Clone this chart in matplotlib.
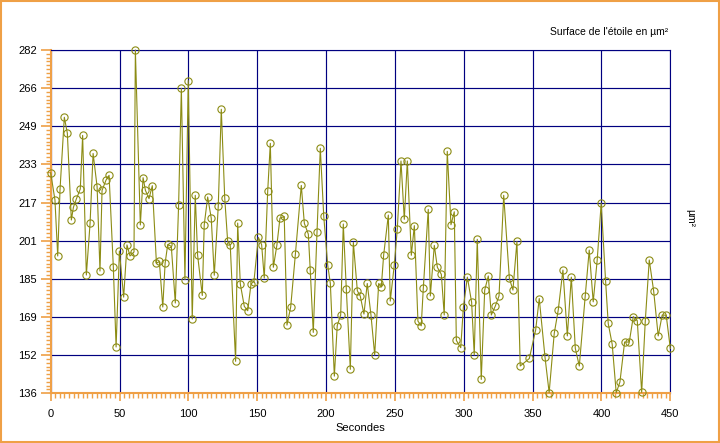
import numpy as np
import matplotlib
matplotlib.use("Agg")
import matplotlib.pyplot as plt
from matplotlib.patches import Rectangle
from matplotlib.ticker import AutoMinorLocator

# DATA
secondes = [
    0, 3.1, 5.1, 6.8, 9.9, 12.1, 15.0, 16.5, 18.6, 21.5, 23.2, 25.9, 28.6, 30.8,
    33.7, 35.8, 37.3, 40.2, 42.4, 45.5, 47.5, 49.9, 53.0, 55.4, 57.6, 60.5, 61.5,
    65.1, 67.1, 68.8, 71.4, 73.8, 76.8, 78.9, 81.4, 83.1, 85.0, 87.6, 90.5, 92.9,
    94.9, 97.5, 99.9, 102.8, 105.0, 106.7, 110.1, 111.5, 114.0, 116.6, 118.8,
    121.7, 123.9, 126.4, 128.5, 130.4, 134.3, 135.8, 137.7, 140.6, 143.1, 145.5,
    147.6, 150.8, 153.2, 155.1, 157.6, 159.5, 161.7, 164.3, 166.5, 169.6, 171.6,
    174.3, 177.7, 182.0, 184.2, 187.1, 188.5, 190.7, 193.4, 195.8, 198.3, 201.2,
    203.1, 206.0, 208.1, 210.6, 212.5, 214.7, 217.6, 219.8, 222.7, 224.8, 227.5,
    229.9, 232.6, 235.3, 238.2, 240.1, 241.8, 245.2, 246.6, 249.5, 251.7, 254.4,
    256.8, 259.0, 261.9, 264.1, 266.7, 269.1, 270.6, 274.2, 275.7, 278.6, 280.8,
    283.7, 285.8, 288.0, 290.7, 293.1, 294.6, 297.8, 299.7, 302.6, 305.7, 307.6,
    309.8, 312.7, 315.2, 317.8, 320.0, 322.9, 325.6, 329.0, 333.1, 335.7, 338.6,
    341.0, 347.6, 352.2, 354.8, 359.0, 362.0, 365.7, 368.6, 372.0, 375.2, 378.1,
    381.0, 383.9, 388.2, 391.1, 394.0, 396.9, 399.8, 403.0, 404.9, 407.8, 410.7,
    413.4, 416.8, 420.2, 423.1, 426.0, 429.2, 431.8, 434.7, 437.9, 441.2, 444.1,
    447.0, 450.0,
]
surface = [
    229.8, 218.2, 194.4, 222.9, 253.4, 246.6, 209.7, 215.1, 218.6, 222.9, 245.7,
    186.3, 208.3, 238.0, 223.9, 188.0, 222.3, 226.7, 228.7, 189.6, 155.7, 196.5,
    176.9, 199.1, 194.4, 196.1, 282.0, 207.6, 227.7, 222.3, 218.8, 224.3, 191.3,
    192.1, 172.7, 191.3, 199.3, 198.5, 174.4, 216.1, 265.7, 184.3, 269.0, 167.6,
    220.2, 194.7, 177.6, 207.6, 219.5, 210.5, 186.2, 215.6, 256.8, 219.0, 200.8,
    198.9, 149.6, 208.4, 182.5, 173.0, 171.1, 182.6, 183.5, 202.3, 199.2, 185.0,
    221.9, 242.3, 189.6, 199.1, 210.5, 211.2, 165.0, 172.7, 195.1, 224.4, 208.3,
    203.7, 188.4, 161.9, 204.4, 240.2, 211.4, 190.4, 182.7, 143.3, 164.8, 169.3,
    208.0, 180.2, 146.2, 200.2, 179.6, 177.4, 169.7, 182.7, 169.3, 152.3, 182.7,
    181.2, 194.7, 211.8, 175.2, 190.4, 205.7, 234.8, 210.0, 234.8, 194.7, 207.3,
    166.7, 164.7, 180.6, 214.2, 177.4, 198.9, 189.6, 186.6, 169.3, 238.9, 207.7,
    213.2, 158.5, 155.4, 172.5, 185.4, 174.7, 152.3, 201.5, 141.9, 179.9, 185.9,
    169.3, 173.1, 177.4, 220.2, 184.9, 179.9, 200.6, 147.6, 150.8, 162.9, 176.3,
    151.3, 136.3, 161.5, 171.4, 188.4, 160.4, 185.4, 155.1, 147.6, 177.4, 196.9,
    174.9, 192.7, 216.9, 183.7, 165.7, 156.8, 136.2, 140.8, 157.8, 157.8, 168.6,
    166.9, 136.4, 166.6, 192.7, 179.5, 160.4, 169.3, 169.2, 155.1,
]
x_ticks = [0, 50, 100, 150, 200, 250, 300, 350, 400, 450]
y_labels = ["136", "152", "169", "185", "201", "217", "233", "249", "266", "282"]

ORANGE = "#EFA046"
NAVY = "#000080"
OLIVE = "#8C8C14"

plt.rcParams["font.family"] = ["Liberation Sans", "DejaVu Sans"]

fig = plt.figure(figsize=(7.2, 4.43), dpi=100)
ax = fig.add_axes([0.0704, 0.1122, 0.8606, 0.7749])

ax.plot(secondes, surface, color=OLIVE, lw=0.8, marker="o", markersize=5.2,
        markerfacecolor="none", markeredgecolor=OLIVE, markeredgewidth=0.8,
        clip_on=False, zorder=3)

ax.set_xlim(0, 450)
ax.set_ylim(136, 282)
ax.set_xticks(x_ticks)
ax.set_yticks(np.linspace(136, 282, len(y_labels)))
ax.set_yticklabels(y_labels)
ax.xaxis.set_minor_locator(AutoMinorLocator(15))
ax.yaxis.set_minor_locator(AutoMinorLocator(10))

ax.grid(True, which="major", color=NAVY, lw=0.85)
ax.set_axisbelow(True)

ax.spines["left"].set_color(ORANGE)
ax.spines["bottom"].set_color(ORANGE)
ax.spines["left"].set_linewidth(1.5)
ax.spines["bottom"].set_linewidth(1.5)
ax.spines["top"].set_color(NAVY)
ax.spines["right"].set_color(NAVY)

ax.tick_params(axis="both", which="major", color=ORANGE, width=1.2,
               labelsize=8, labelcolor="black")
ax.tick_params(axis="y", which="major", length=7, pad=3)
ax.tick_params(axis="x", which="major", length=6, pad=5)
ax.tick_params(axis="both", which="minor", color=ORANGE, width=1.0, length=3.5)

ax.set_xlabel("Secondes", fontsize=8, labelpad=3)

fig.text(668 / 720, 1 - 32 / 443, "Surface de l'étoile en µm²", fontsize=7.5,
         ha="right", va="center")
fig.text(690 / 720, 1 - 218 / 443, "µm²", fontsize=7.5, rotation=-90,
         ha="center", va="center")

# orange frame around the whole picture
fig.patches.append(Rectangle((0.002, 0.003), 0.996, 0.994, transform=fig.transFigure,
                             fill=False, edgecolor=ORANGE, lw=1.5))

fig.savefig("out.png", dpi=100)
